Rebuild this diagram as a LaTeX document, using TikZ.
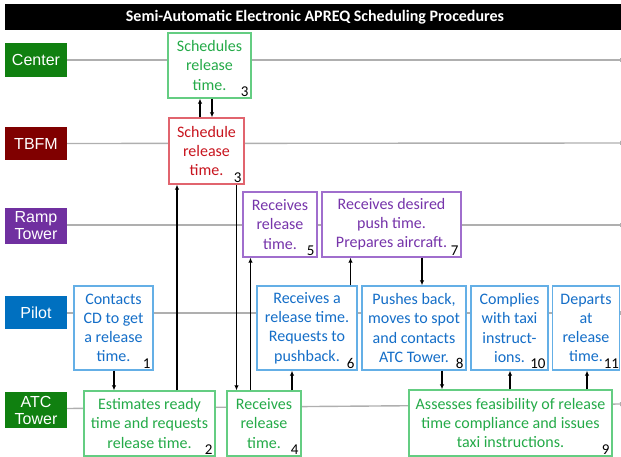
\documentclass[tikz,border=0pt]{standalone}
\usepackage{fontspec}
\setmainfont{Carlito}
\newfontfamily\arialf{Liberation Sans}
\usetikzlibrary{arrows.meta}
\definecolor{lanegray}{RGB}{175,175,175}
\definecolor{cgreen}{RGB}{16,128,16}
\definecolor{tred}{RGB}{128,0,0}
\definecolor{rpurple}{RGB}{112,48,160}
\definecolor{pblue}{RGB}{0,112,192}
\definecolor{gtext}{RGB}{36,170,72}
\definecolor{gbord}{RGB}{100,205,130}
\definecolor{rtext}{RGB}{200,20,30}
\definecolor{rbord}{RGB}{225,100,110}
\definecolor{ptext}{RGB}{118,52,170}
\definecolor{pbord}{RGB}{160,110,205}
\definecolor{btext}{RGB}{20,110,200}
\definecolor{bbord}{RGB}{100,175,230}
\begin{document}
\begin{tikzpicture}[x=1pt,y=-1pt,
  lane/.style={fill=#1, text=white, font=\arialf\fontsize{16}{17}\selectfont,
    align=center, minimum width=62pt, inner sep=0pt},
  laneline/.style={draw=lanegray, line width=1.4pt, -{Bar[width=4pt,line width=1pt]}},
  box/.style={draw=#1bord, text=#1text, fill=white, line width=1.4pt, align=center,
    inner sep=0pt, font=\fontsize{16}{19.2}\selectfont},
  num/.style={font=\fontsize{15}{15}\selectfont, text=black, inner xsep=3pt, inner ysep=2pt, anchor=south east},
  arr/.style={line width=1.4pt, -{Latex[length=5pt,width=4.5pt]}},
]
\useasboundingbox (0,0) rectangle (621,457);
% title
\fill[black] (5,4) rectangle (621,30);
\node[text=white, font=\bfseries\fontsize{16}{18}\selectfont] (title) at (315,17) {Semi-Automatic Electronic APREQ Scheduling Procedures};

% lane labels
\node[lane=cgreen, minimum height=34pt] (Lc) at (36,60) {Center};
\node[lane=tred, minimum height=33pt] (Lt) at (36,143.5) {TBFM};
\node[lane=rpurple, minimum height=36pt] (Lr) at (36,226) {Ramp\\Tower};
\node[lane=pblue, minimum height=33pt] (Lp) at (36,312.5) {Pilot};
\node[lane=cgreen, minimum height=36pt] (La) at (36,410) {ATC\\Tower};

% lane lines
\coordinate (Ec) at (621,60);
\coordinate (Et) at (621,143);
\coordinate (Er) at (621,225);
\coordinate (Ep) at (621,313);
\coordinate (Ea) at (621,404);
\draw[laneline] (Lc.east) -- (Ec);
\draw[laneline] (Lt.east) -- (Et);
\draw[laneline] (Lr.east |- Er) -- (Er);
\draw[laneline] (Lp.east |- Ep) -- (Ep);
\draw[laneline] (67,408.5) -- (Ea);

% boxes
\node[box=g, minimum width=83pt, minimum height=65pt] (c3) at (209.5,65.5) {Schedules\\release\\time.};
\node[box=r, minimum width=75pt, minimum height=66pt] (t3) at (206.5,151) {Schedule\\release\\time.};
\node[box=p, minimum width=74pt, minimum height=65pt] (r5) at (280,224.5) {Receives\\release\\time.};
\node[box=p, minimum width=139pt, minimum height=65pt] (r7) at (391.5,224.5) {Receives desired\\push time.\\Prepares aircraft.};
\node[box=b, minimum width=79pt, minimum height=84pt] (p1) at (113.5,328) {Contacts\\CD to get\\a release\\time.};
\node[box=b, minimum width=100pt, minimum height=84pt] (p6) at (307,328) {Receives a\\release time.\\Requests to\\pushback.};
\node[box=b, minimum width=104pt, minimum height=84pt] (p8) at (414,328) {Pushes back,\\moves to spot\\and contacts\\ATC Tower.};
\node[box=b, minimum width=77pt, minimum height=84pt] (p10) at (509.5,328) {Complies\\with taxi\\instruct-\\ions.};
\node[box=b, minimum width=67pt, minimum height=84pt] (p11) at (586,328) {Departs\\at\\release\\time.};
\node[box=g, minimum width=131pt, minimum height=65pt] (a2) at (149.5,423.5) {Estimates ready\\time and requests\\release time.};
\node[box=g, minimum width=74pt, minimum height=65pt] (a4) at (264,423.5) {Receives\\release\\time.};
\node[box=g, minimum width=203pt, minimum height=66pt] (a9) at (510.5,423) {Assesses feasibility of release\\time compliance and issues\\taxi instructions.};

% numbers
\node[num] (n1) at (p1.south east) {1};
\node[num] (n2) at (a2.south east) {2};
\node[num] (n3a) at (c3.south east) {3};
\node[num] (n3b) at (t3.south east) {3};
\node[num] (n4) at (a4.south east) {4};
\node[num] (n5) at (r5.south east) {5};
\node[num] (n6) at (p6.south east) {6};
\node[num] (n7) at (r7.south east) {7};
\node[num] (n8) at (p8.south east) {8};
\node[num] (n9) at (a9.south east) {9};
\node[num] (n10) at (p10.south east) {10};
\node[num, inner xsep=1pt] (n11) at (p11.south east) {11};

% connectors
\draw[arr] (t3.north -| 200,0) -- (c3.south -| 200,0);
\draw[arr] (c3.south -| 212,0) -- (t3.north -| 212,0);
\draw[arr] (p1.south -| 114,0) -- (a2.north -| 114,0);
\draw[arr] (a2.north -| 177,0) -- (t3.south -| 177,0);
\draw[arr] (t3.south -| 236.5,0) -- (a4.north -| 236.5,0);
\draw[arr] (a4.north -| 250.5,0) -- (r5.south -| 250.5,0);
\draw[arr] (a4.north -| 292,0) -- (p6.south -| 292,0);
\draw[arr] (p6.north -| 350.5,0) -- (r7.south -| 350.5,0);
\draw[arr] (r7.south -| 422,0) -- (p8.north -| 422,0);
\draw[arr] (p8.south -| 442,0) -- (a9.north -| 442,0);
\draw[arr] (a9.north -| 510,0) -- (p10.south -| 510,0);
\draw[arr] (a9.north -| 587,0) -- (p11.south -| 587,0);
\end{tikzpicture}
\end{document}
